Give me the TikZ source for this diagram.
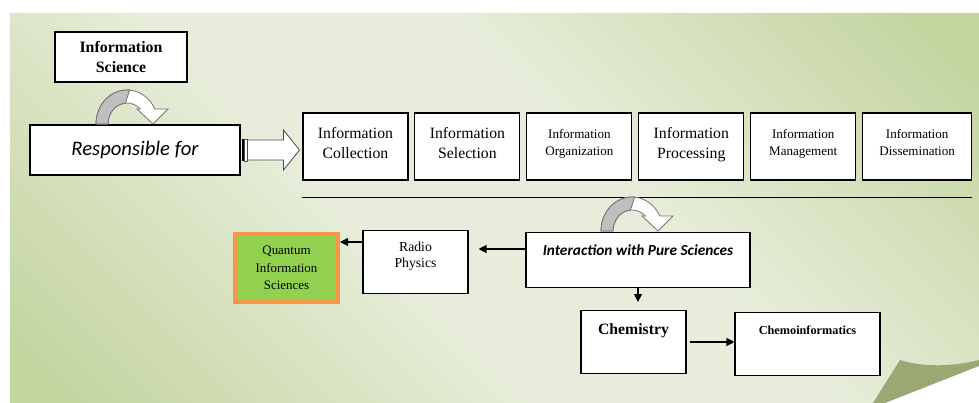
\documentclass[tikz,border=0pt]{standalone}
\usepackage{fontspec}
\setmainfont{Liberation Serif}
\newfontfamily\calibri{Carlito}
\usetikzlibrary{positioning,arrows.meta}

\definecolor{bgdark}{RGB}{196,213,160}
\definecolor{bglight}{RGB}{231,237,218}
\definecolor{flap}{RGB}{154,169,116}
\definecolor{qgreen}{RGB}{146,208,80}
\definecolor{qorange}{RGB}{247,150,70}

\pgfdeclareverticalshading{pagebg}{100bp}{color(0bp)=(bgdark); color(18bp)=(bgdark);
  color(42bp)=(bglight); color(58bp)=(bglight); color(82bp)=(bgdark); color(100bp)=(bgdark)}

\tikzset{
  turnarrow/.pic={
    \filldraw[fill=white, draw=black!55, line width=0.6pt]
      (-31,0) arc[start angle=180, end angle=333.8, x radius=31, y radius=34]
      -- (41,-15) -- (26,0) -- (10,-15) -- (13.3,-15)
      arc[start angle=314.4, end angle=180, x radius=19, y radius=21] -- cycle;
    \filldraw[fill=black!25, draw=black!55, line width=0.6pt]
      (-31,0) arc[start angle=180, end angle=275, x radius=31, y radius=34]
      -- (-1.7,-20.9)
      arc[start angle=265, end angle=180, x radius=19, y radius=21] -- cycle;
  }
}

\begin{document}
\begin{tikzpicture}[x=0.75pt, y=-0.75pt,
    node distance=4.4pt,
    box/.style={draw=black, line width=0.8pt, fill=white, align=center,
                inner sep=0pt},
    stepbox/.style={box, minimum width=78.75pt, minimum height=50.25pt,
                    text depth=6pt, font=\fontsize{11.8}{15}\selectfont},
    smallstep/.style={stepbox, font=\fontsize{9.8}{12.75}\selectfont},
    qbox/.style={draw=qorange, line width=3pt, fill=qgreen, align=center,
                 inner sep=0pt, font=\fontsize{9.7}{13}\selectfont},
    arr/.style={-{Triangle[length=6pt,width=6pt]}, line width=0.8pt}
  ]
  \useasboundingbox (0,0) rectangle (979,403);
  \fill[white] (0,0) rectangle (979,403);
  % page
  \shade[shading=pagebg, shading angle=-45]
    (10,13) -- (979,13) -- (979,365) -- (885,403) -- (10,403) -- cycle;
  \fill[flap] (900,360) .. controls (925,368) and (955,366) .. (979,360)
    -- (979,366) -- (885,403) -- (873,403) -- cycle;

  \node[box, minimum width=99pt, minimum height=37.5pt,
        font=\fontsize{11.9}{15}\selectfont\bfseries] (infosci) at (121,57)
        {Information\\Science};
  \node[box, minimum width=157.5pt, minimum height=37.5pt,
        font=\fontsize{15.5}{18}\selectfont\calibri\itshape] (resp) at (135,150)
        {Responsible for};
  \pic at (127,124) {turnarrow};

  % striped block arrow
  \begin{scope}[shift={(resp.east)}]
    \fill[black] (1,-11) rectangle (4,11);
    \draw[black!70, line width=0.6pt, fill=white] (4,-11) rectangle (7,11);
    \draw[black!70, line width=0.6pt, fill=white] (7,-10) -- (43,-10) -- (43,-20)
      -- (59,0) -- (43,20) -- (43,10) -- (7,10) -- cycle;
  \end{scope}

  \node[stepbox] (coll) at (355.5,146.5) {Information\\Collection};
  \node[stepbox, right=of coll] (sel) {Information\\Selection};
  \node[smallstep, right=of sel] (org) {Information\\Organization};
  \node[stepbox, right=of org] (proc) {Information\\Processing};
  \node[smallstep, right=of proc] (mgmt) {Information\\Management};
  \node[smallstep, right=of mgmt, minimum width=81.75pt] (dissem) {Information\\Dissemination};
  \draw[line width=0.8pt] ([yshift=-12.75pt]coll.south west) -- ([yshift=-12.75pt]dissem.south east);

  \pic at (632,231) {turnarrow};
  \node[box, anchor=north, minimum width=168pt, text height=17.25pt, text depth=24pt,
        font=\fontsize{11.5}{14}\selectfont\calibri\bfseries\itshape] (inter) at (638,232)
        {Interaction with Pure Sciences};
  \node[box, anchor=north, minimum width=78.75pt, text height=27.75pt, text depth=19.5pt,
        font=\fontsize{10.3}{12}\selectfont] (radio) at (415.5,230)
        {Radio\\Physics};
  \node[qbox, minimum width=77.25pt, minimum height=51pt] (quant) at (286.5,268)
        {Quantum\\Information\\Sciences};
  \node[box, anchor=north, minimum width=78.75pt, text height=18pt, text depth=29.25pt,
        font=\fontsize{11.8}{14}\selectfont\bfseries] (chem) at (633.5,310)
        {Chemistry};
  \node[box, anchor=north, minimum width=108.75pt, text height=16.5pt, text depth=30.75pt,
        font=\fontsize{9.2}{12}\selectfont\bfseries] (chemoinf) at (807.5,312)
        {Chemoinformatics};

  \draw[arr, shorten >=7.5pt] ([yshift=-12.75pt]inter.north west) -- ([yshift=-14.25pt]radio.north east);
  \draw[arr] ([yshift=-9pt]radio.north west) -- ([yshift=-7.5pt]quant.north east);
  \draw[arr, shorten >=6pt] (inter.south) -- (inter.south |- chem.north);
  \draw[arr, shorten <=2.25pt] ([yshift=-24pt]chem.north east) -- ([yshift=-22.5pt]chemoinf.north west);
\end{tikzpicture}
\end{document}
